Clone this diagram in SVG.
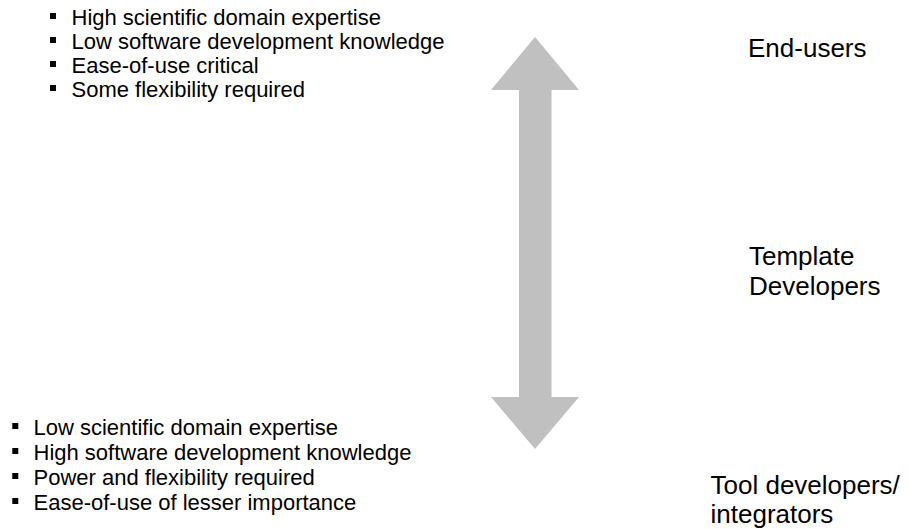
<svg xmlns="http://www.w3.org/2000/svg" width="909" height="529" viewBox="0 0 909 529">
  <defs>
    <style>
      .item { font-family: "Liberation Sans", Arial, sans-serif; font-size: 22px; fill: #000; }
      .role { font-family: "Liberation Sans", Arial, sans-serif; font-size: 26px; fill: #000; }
      .bullet { fill: #000; }
      .scale { fill: #C0C0C0; stroke: none; }
    </style>
    <rect id="sq" class="bullet" width="6" height="6"/>
  </defs>
  <rect width="909" height="529" fill="#fff"/>

  <!-- Profile of end-users -->
  <g id="end-user-traits">
    <use href="#sq" x="50" y="13"/>
    <text class="item" x="71.5" y="25">High scientific domain expertise</text>
    <use href="#sq" x="50" y="37"/>
    <text class="item" x="71.5" y="49">Low software development knowledge</text>
    <use href="#sq" x="50" y="61"/>
    <text class="item" x="71.5" y="73">Ease-of-use critical</text>
    <use href="#sq" x="50" y="85"/>
    <text class="item" x="71.5" y="97">Some flexibility required</text>
  </g>

  <!-- Profile of tool developers -->
  <g id="tool-developer-traits">
    <use href="#sq" x="12.3" y="423"/>
    <text class="item" x="33.5" y="435">Low scientific domain expertise</text>
    <use href="#sq" x="12.3" y="448"/>
    <text class="item" x="33.5" y="460">High software development knowledge</text>
    <use href="#sq" x="12.3" y="473"/>
    <text class="item" x="33.5" y="485">Power and flexibility required</text>
    <use href="#sq" x="12.3" y="498"/>
    <text class="item" x="33.5" y="510">Ease-of-use of lesser importance</text>
  </g>

  <!-- Double-headed scale arrow -->
  <g id="connectors">
    <polygon class="scale" points="535,37 579,90 551.5,90 551.5,397 579,397 535,449 491,397 519,397 519,90 491,90"/>
  </g>

  <!-- Role labels -->
  <g id="end-users">
    <text class="role" x="748" y="57">End-users</text>
  </g>
  <g id="template-developers">
    <text class="role" x="749" y="265">Template</text>
    <text class="role" x="749" y="295">Developers</text>
  </g>
  <g id="tool-developers">
    <text class="role" x="710.5" y="494">Tool developers/</text>
    <text class="role" x="710.5" y="523">integrators</text>
  </g>
</svg>
